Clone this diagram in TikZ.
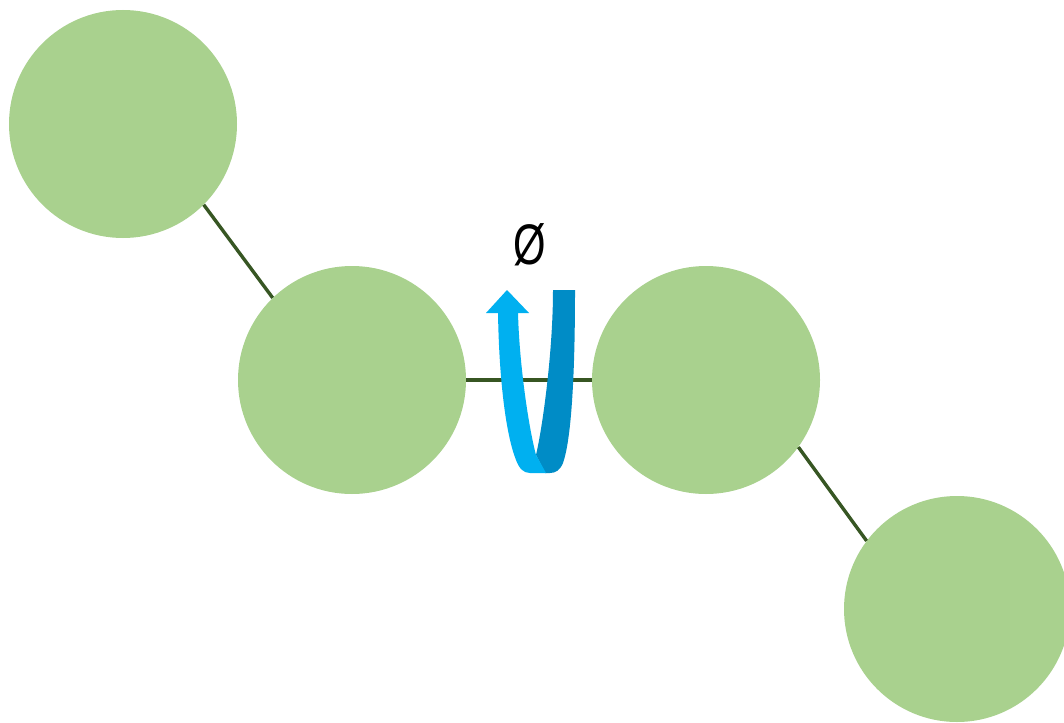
\documentclass[tikz,border=0pt]{standalone}
\usepackage{graphicx}
\usepackage{fontspec}
\newfontfamily\symfont{Liberation Sans}
\definecolor{ballgreen}{RGB}{169,209,142}
\definecolor{bondgreen}{RGB}{55,86,35}
\definecolor{lightblue}{RGB}{0,176,240}
\definecolor{darkblue}{RGB}{0,140,198}
\tikzset{
  ball/.style={circle, fill=ballgreen, draw=none, minimum size=228pt, inner sep=0pt},
  bond/.style={draw=bondgreen, line width=3.4pt},
}
\begin{document}
\begin{tikzpicture}[x=1pt,y=-1pt]
\clip (0,0) rectangle (1064,722);
\fill[white] (0,0) rectangle (1064,722);
\node[ball] (c1) at (123,124) {};
\node[ball] (c2) at (352,380) {};
\node[ball] (c3) at (706,380) {};
\node[ball, minimum size=226pt] (c4) at (957,609) {};
\draw[bond] (c1.-45) -- (c2.134);
\draw[bond] (c2.east) -- (c3.west);
\draw[bond] (c3.-36) -- (c4.143);
% rotation arrow
\fill[darkblue] (553,290) -- (575,290)
  .. controls (575,380) and (571,440) .. (563,463)
  .. controls (560,470) and (556,473) .. (550,473) -- (545,473) -- (536,455)
  .. controls (543,425) and (553,350) .. (553,290) -- cycle;
\fill[lightblue] (498,312)
  .. controls (499,380) and (506,435) .. (516,460)
  .. controls (519,468) and (523,473) .. (530,473) -- (546,473) -- (536,455)
  .. controls (528,425) and (519,360) .. (518,312) -- cycle;
\fill[lightblue] (486,313) -- (507,290) -- (529,313) -- cycle;
\node[inner sep=0pt] (phi) at (530,245) {\scalebox{0.95}[1.3]{\symfont\fontsize{44}{48}\selectfont Ø}};
\end{tikzpicture}
\end{document}
